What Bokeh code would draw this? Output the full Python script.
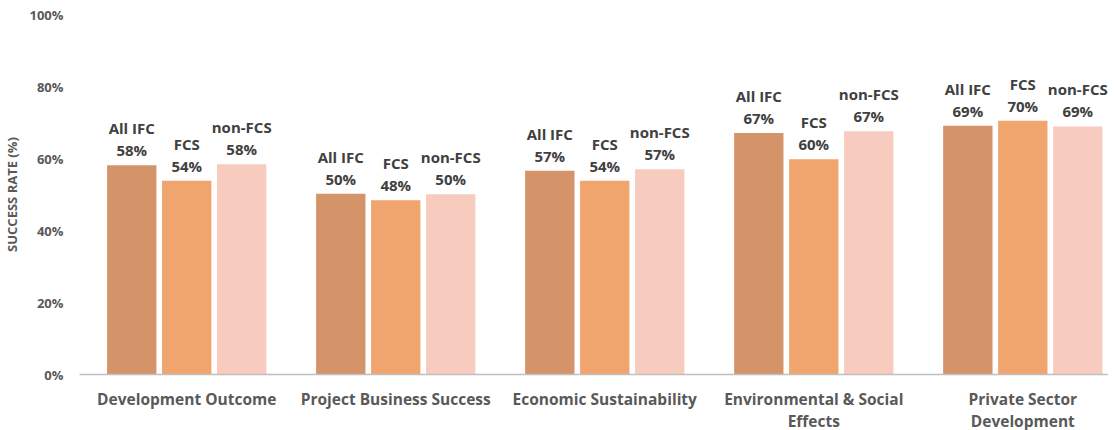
from bokeh.plotting import figure
from bokeh.models import Range1d, FixedTicker, ColumnDataSource
from bokeh.core.properties import value
from bokeh.embed import file_html
from bokeh.resources import INLINE

categories = ["Development Outcome", "Project Business Success", "Economic Sustainability",
              "Environmental & Social\nEffects", "Private Sector\nDevelopment"]
series = ["All IFC", "FCS", "non-FCS"]
all_ifc = [58.1, 50.2, 56.6, 67.1, 69.1]
fcs = [53.8, 48.4, 53.8, 59.8, 70.5]
non_fcs = [58.4, 50.1, 57.0, 67.6, 68.9]
labels_all = ["58%", "50%", "57%", "67%", "69%"]
labels_fcs = ["54%", "48%", "54%", "60%", "70%"]
labels_non = ["58%", "50%", "57%", "67%", "69%"]
y_ticks = [0, 20, 40, 60, 80, 100]

colors = ["#D49368", "#F0A46E", "#F7CBBD"]
offsets = [-0.263, 0.0, 0.263]
bar_w = 0.236

p = figure(frame_width=1029, frame_height=360, output_backend="svg", toolbar_location=None,
           x_range=Range1d(-0.513, 4.41), y_range=Range1d(0, 100),
           min_border_left=75, min_border_right=0, min_border_top=14, min_border_bottom=40)
p.outline_line_color = None
p.xgrid.visible = False
p.ygrid.visible = False
p.background_fill_color = "white"

font = "Open Sans"
for vals, labs, name, col, off in zip([all_ifc, fcs, non_fcs], [labels_all, labels_fcs, labels_non],
                                      series, colors, offsets):
    xs = [i + off for i in range(len(categories))]
    src = ColumnDataSource(dict(x=xs, top=vals, txt=[name + "\n" + l for l in labs]))
    p.vbar(x="x", top="top", width=bar_w, bottom=0, source=src, fill_color=col, line_color=None)
    p.text(x="x", y="top", text="txt", source=src, text_align="center", text_baseline="bottom",
           y_offset=-5, text_font=value(font), text_font_style="bold", text_font_size="15px",
           text_color="#404040", text_line_height=1.1)

xa = p.xaxis[0]
xa.ticker = FixedTicker(ticks=list(range(len(categories))))
xa.major_label_overrides = {i: c for i, c in enumerate(categories)}
xa.major_tick_line_color = None
xa.major_tick_out = 0
xa.major_tick_in = 0
xa.minor_tick_line_color = None
xa.minor_tick_out = 0
xa.axis_line_color = "#BFBFBF"
xa.axis_line_width = 1.5
xa.major_label_text_font = font
xa.major_label_text_font_style = "bold"
xa.major_label_text_font_size = "15.5px"
xa.major_label_text_line_height = 1.0
xa.major_label_text_color = "#595959"
xa.major_label_standoff = 13

ya = p.yaxis[0]
ya.ticker = FixedTicker(ticks=y_ticks)
ya.major_label_overrides = {t: f"{t}%" for t in y_ticks}
ya.axis_line_color = None
ya.major_tick_line_color = None
ya.major_tick_out = 0
ya.major_tick_in = 0
ya.minor_tick_line_color = None
ya.minor_tick_out = 0
ya.major_label_text_font = font
ya.major_label_text_font_style = "bold"
ya.major_label_text_font_size = "13px"
ya.major_label_text_color = "#595959"
ya.major_label_standoff = 16
ya.axis_label = "SUCCESS RATE (%)"
ya.axis_label_text_font = font
ya.axis_label_text_font_style = "bold"
ya.axis_label_text_font_size = "13px"
ya.axis_label_text_color = "#595959"
ya.axis_label_standoff = 5

open("out.html", "w").write(file_html(p, INLINE))
